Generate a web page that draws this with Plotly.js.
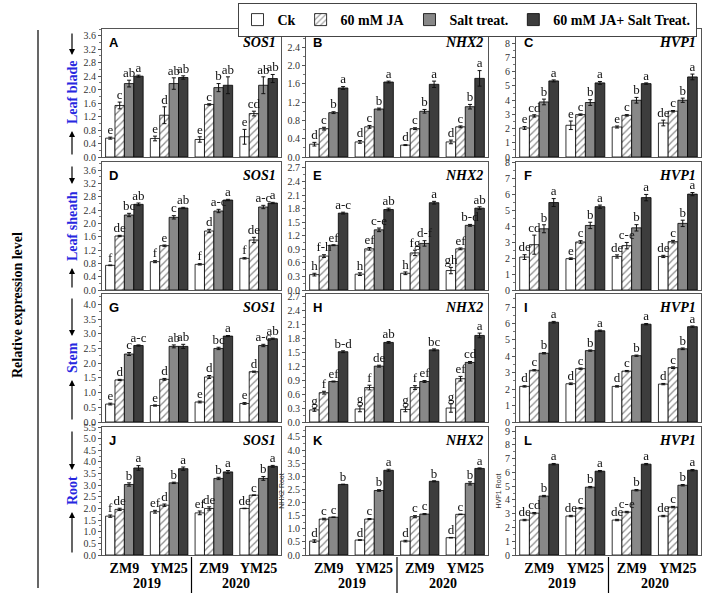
<!DOCTYPE html>
<html><head><meta charset="utf-8">
<script src="https://cdn.plot.ly/plotly-3.0.1.min.js"></script>
<style>
html,body{margin:0;padding:0;background:#fff}
#chart .textpoint text{filter:grayscale(100%);}
#chart .annotation-text{filter:none;}
</style>
</head><body><div id="chart" style="width:708px;height:595px"></div>
<script>
const categories = ['ZM9','YM25','ZM9','YM25'];
const years = ['2019','2020'];
const treatments = ['Ck','60 mM JA','Salt treat.','60 mM JA+ Salt Treat.'];
const panelLetters = ['A','B','C','D','E','F','G','H','I','J','K','L'];
const genes = ['SOS1','NHX2','HVP1'];
const tissues = ['Leaf blade','Leaf sheath','Stem','Root'];

// each: [Ck, 60 mM JA, Salt, JA+Salt] x [ZM9-2019, YM25-2019, ZM9-2020, YM25-2020]
const A_val = [[0.56,0.55,0.52,0.60],[1.53,1.24,1.56,1.29],[2.18,2.18,2.06,2.13],[2.40,2.36,2.13,2.33]];
const A_err = [[0.03,0.07,0.08,0.22],[0.10,0.25,0.02,0.07],[0.10,0.17,0.12,0.25],[0.03,0.05,0.25,0.12]];
const A_sig = [['e','e','e','e'],['c','d','c','cd'],['ab','ab','b','ab'],['a','ab','ab','ab']];

const B_val = [[0.28,0.33,0.26,0.33],[0.62,0.66,0.62,0.66],[0.97,1.05,1.00,1.10],[1.51,1.64,1.59,1.72]];
const B_err = [[0.04,0.03,0.01,0.04],[0.03,0.03,0.02,0.02],[0.02,0.02,0.04,0.05],[0.03,0.02,0.07,0.17]];
const B_sig = [['d','d','d','d'],['c','c','c','c'],['b','b','b','b'],['a','a','a','a']];

const C_val = [[2.04,2.23,2.11,2.39],[2.89,2.98,2.93,3.22],[3.87,3.83,3.99,3.99],[5.35,5.21,5.16,5.63]];
const C_err = [[0.10,0.30,0.07,0.20],[0.08,0.05,0.05,0.05],[0.20,0.20,0.20,0.15],[0.07,0.10,0.05,0.20]];
const C_sig = [['e','e','e','de'],['cd','c','c','c'],['b','b','b','b'],['a','a','a','a']];

const D_val = [[0.74,0.85,0.77,0.95],[1.62,1.33,1.77,1.50],[2.25,2.18,2.37,2.49],[2.57,2.46,2.70,2.61]];
const D_err = [[0.01,0.03,0.02,0.02],[0.02,0.02,0.05,0.08],[0.05,0.05,0.05,0.05],[0.04,0.02,0.02,0.02]];
const D_sig = [['f','f','f','f'],['de','e','d','de'],['bc','c','a-c','a-c'],['ab','ab','a','a']];

const E_val = [[0.34,0.35,0.37,0.43],[0.75,0.91,0.82,0.91],[0.99,1.33,1.03,1.43],[1.70,1.78,1.93,1.81]];
const E_err = [[0.03,0.03,0.03,0.07],[0.03,0.03,0.06,0.02],[0.01,0.04,0.06,0.02],[0.02,0.03,0.03,0.03]];
const E_sig = [['h','h','h','gh'],['f-h','ef','fg','ef'],['ef','c-e','d-f','b-d'],['a-c','ab','a','ab']];

const F_val = [[2.07,1.97,2.11,2.11],[2.85,3.02,2.79,3.04],[3.85,4.06,3.91,4.19],[5.50,5.24,5.81,6.03]];
const F_err = [[0.15,0.05,0.10,0.07],[0.60,0.08,0.20,0.08],[0.25,0.20,0.20,0.20],[0.25,0.10,0.20,0.10]];
const F_sig = [['de','e','de','de'],['cd','c','c-e','c'],['b','b','b','b'],['a','a','a','a']];

const G_val = [[0.61,0.56,0.68,0.63],[1.43,1.45,1.53,1.71],[2.31,2.57,2.50,2.60],[2.60,2.57,2.92,2.83]];
const G_err = [[0.03,0.02,0.03,0.03],[0.02,0.03,0.05,0.02],[0.05,0.05,0.04,0.04],[0.02,0.07,0.02,0.02]];
const G_sig = [['e','e','e','e'],['d','d','d','d'],['c','ab','bc','a-c'],['a-c','ab','a','ab']];

const H_val = [[0.26,0.28,0.27,0.30],[0.63,0.74,0.74,0.93],[0.87,1.20,0.87,1.28],[1.51,1.71,1.55,1.86]];
const H_err = [[0.03,0.06,0.05,0.09],[0.03,0.05,0.04,0.05],[0.01,0.02,0.02,0.02],[0.02,0.02,0.02,0.05]];
const H_sig = [['g','g','g','g'],['f','f','f','ef'],['ef','de','ef','cd'],['b-d','ab','bc','a']];

const I_val = [[2.17,2.33,2.17,2.31],[3.15,3.25,3.10,3.31],[4.19,4.35,4.04,4.46],[6.08,5.56,5.96,5.81]];
const I_err = [[0.04,0.05,0.04,0.04],[0.04,0.04,0.04,0.05],[0.04,0.04,0.04,0.05],[0.05,0.04,0.04,0.04]];
const I_sig = [['d','d','d','d'],['c','c','c','c'],['b','b','b','b'],['a','a','a','a']];

const J_val = [[1.67,1.86,1.81,2.00],[1.96,2.14,2.00,2.57],[3.03,3.10,3.29,3.29],[3.74,3.71,3.57,3.81]];
const J_err = [[0.05,0.06,0.08,0.01],[0.05,0.05,0.07,0.01],[0.07,0.03,0.05,0.08],[0.10,0.07,0.06,0.04]];
const J_sig = [['f','ef','ef','de'],['de','d','de','c'],['b','b','b','b'],['a','a','a','a']];

const K_val = [[0.53,0.57,0.53,0.66],[1.37,1.37,1.46,1.55],[1.44,2.46,1.56,2.73],[2.69,3.23,2.81,3.30]];
const K_err = [[0.05,0.01,0.03,0.01],[0.03,0.02,0.04,0.01],[0.01,0.03,0.02,0.06],[0.01,0.04,0.02,0.02]];
const K_sig = [['d','d','d','d'],['c','c','c','c'],['c','b','c','b'],['b','a','b','a']];

const L_val = [[2.54,2.83,2.54,2.83],[3.04,3.40,3.12,3.48],[4.28,4.93,4.71,5.07],[6.60,6.09,6.60,6.16]];
const L_err = [[0.05,0.05,0.05,0.05],[0.05,0.05,0.05,0.05],[0.05,0.05,0.05,0.05],[0.05,0.05,0.05,0.05]];
const L_sig = [['de','de','de','de'],['cd','c','c-e','c'],['b','b','b','b'],['a','a','a','a']];

const panels = [
  [A_val,A_err,A_sig],[B_val,B_err,B_sig],[C_val,C_err,C_sig],
  [D_val,D_err,D_sig],[E_val,E_err,E_sig],[F_val,F_err,F_sig],
  [G_val,G_err,G_sig],[H_val,H_err,H_sig],[I_val,I_err,I_sig],
  [J_val,J_err,J_sig],[K_val,K_err,K_sig],[L_val,L_err,L_sig]
];
// axis settings [max, dtick, format]
const axisCfg = [
  [3.8,0.4,'.1f'],[2.8,0.4,'.1f'],[9,1,'d'],
  [3.84,0.4,'.1f'],[2.83,0.3,'.1f'],[8.05,1,'d'],
  [4.35,0.5,'.1f'],[2.75,0.3,'.1f'],[7.8,1,'d'],
  [5.5,0.5,'.1f'],[4.88,0.5,'.1f'],[9.3,1,'d']
];
const yTitles = ['','','','','','','','','','','NHX2 Root','HVP1 Root'];

const W = 708, H = 595;
const fx = p => p / W, fy = p => 1 - p / H;
const colPx = [[102,281],[306,488],[516,701]];
const rowPx = [[29,157],[162,290],[294,422],[427,555]];

const fillColors = ['#ffffff','#ffffff','#888888','#3d3d3d'];
const serif = 'Liberation Serif';
const bw = 0.21;

const data = [];
const layout = {
  width: W, height: H, margin:{l:0,r:0,t:0,b:0}, autosize:false,
  paper_bgcolor:'#fff', plot_bgcolor:'#fff', barmode:'overlay',
  colorway:['#222222'],
  font:{family:serif, color:'#000'},
  showlegend:true,
  legend:{orientation:'h', x:fx(467), xanchor:'center', y:fy(3), yanchor:'top',
    bordercolor:'#444', borderwidth:1, font:{family:serif, size:14, weight:'bold', color:'#000'},
    itemwidth:30, tracegroupgap:0, bgcolor:'#fff'},
  annotations:[], shapes:[]
};

panels.forEach((pd, p) => {
  const [val, err, sig] = pd;
  const r = Math.floor(p/3), c = p % 3;
  const xn = p === 0 ? 'x' : 'x' + (p+1);
  const yn = p === 0 ? 'y' : 'y' + (p+1);
  for (let s = 0; s < 4; s++) {
    const xs = categories.map((_, k) => k + (s - 1.5) * bw);
    const marker = {color: fillColors[s], line:{color:'#000', width:0.8}};
    if (s === 1) marker.pattern = {shape:'/', fgcolor:'#8a8a8a', bgcolor:'#ffffff', size:5, solidity:0.25};
    data.push({type:'bar', x: xs, y: val[s], width: bw, xaxis: xn, yaxis: yn,
      name: treatments[s], legendgroup: 'g'+s, showlegend: p === 0, marker,
      error_y:{type:'data', array: err[s], visible:true, color:'#111', thickness:1, width:2},
      hoverinfo:'y'});
    data.push({type:'scatter', mode:'text', x: xs, y: val[s].map((v,k)=>v+err[s][k]),
      text: sig[s], textposition:'top center', xaxis: xn, yaxis: yn, showlegend:false,
      marker:{color:'#222222'}, line:{color:'#222222'},
      textfont:{family:serif, size:13, color:'#111111'}, cliponaxis:false, hoverinfo:'skip'});
  }
  const [ymax, dt, fmt] = axisCfg[p];
  const xk = p === 0 ? 'xaxis' : 'xaxis' + (p+1);
  const yk = p === 0 ? 'yaxis' : 'yaxis' + (p+1);
  layout[xk] = {domain:[fx(colPx[c][0]), fx(colPx[c][1])], anchor: yn, range:[-0.5,3.5],
    showline:true, mirror:true, linecolor:'#555', linewidth:1, ticks:'', showgrid:false, zeroline:false,
    showticklabels: r === 3, tickmode:'array', tickvals:[0,1,2,3], ticktext: categories,
    tickfont:{family:serif, size:14, weight:'bold', color:'#000'}, fixedrange:true};
  layout[yk] = {domain:[fy(rowPx[r][1]), fy(rowPx[r][0])], anchor: xn, range:[0, ymax],
    dtick: dt, tick0:0, tickformat: fmt, ticks:'outside', ticklen:3, tickwidth:1, tickcolor:'#555',
    minor:{ticks:'outside', ticklen:2, dtick: dt/2, tickcolor:'#777'},
    showline:true, mirror:true, linecolor:'#555', linewidth:1, showgrid:false, zeroline:false,
    tickfont:{family:serif, size:10, color:'#333'}, fixedrange:true,
    title: yTitles[p] ? {text: yTitles[p], font:{family:'Liberation Sans', size:7, color:'#333'}, standoff:2} : {text:''}};
  layout.annotations.push({xref: xn + ' domain', yref: yn + ' domain', x:0.03, y:0.97,
    xanchor:'left', yanchor:'top', showarrow:false, text: panelLetters[p],
    font:{family:'Liberation Sans', size:13, weight:'bold', color:'#000'}});
  layout.annotations.push({xref: xn + ' domain', yref: yn + ' domain', x:0.985, y:0.97,
    xanchor:'right', yanchor:'top', showarrow:false, text: genes[c],
    font:{family:serif, size:14, weight:'bold', style:'italic', color:'#000'}});
  if (r === 3) {
    years.forEach((yr, i) => layout.annotations.push({xref: xn, yref:'paper', x: 0.5 + 2*i, y: fy(583),
      xanchor:'center', yanchor:'middle',
      showarrow:false, text: yr, font:{family:serif, size:14, weight:'bold', color:'#000'}}));
    layout.shapes.push({type:'line', xref: xn, yref:'paper', x0:1.5, x1:1.5, y0: fy(557), y1: fy(593),
      line:{color:'#000', width:1.2}});
  }
});

// row labels with arrows
const halfLen = [34, 38, 18, 17];
tissues.forEach((t, r) => {
  const top = rowPx[r][0], bot = rowPx[r][1];
  const mid = (top + bot) / 2;
  layout.annotations.push({xref:'paper', yref:'paper', x: fx(72), y: fy(mid), textangle:-90,
    xanchor:'center', yanchor:'middle',
    showarrow:false, text: t, font:{family:serif, size:14, weight:'bold', color:'#2727e0'}});
  const hTop = mid - halfLen[r] - 4, hBot = mid + halfLen[r] + 4;
  layout.annotations.push({xref:'paper', yref:'paper', x: fx(72), y: fy(hTop), ax:0, ay:(top + 3) - hTop,
    text:'', showarrow:true, arrowhead:2, arrowsize:1, arrowwidth:1.2, arrowcolor:'#000'});
  layout.annotations.push({xref:'paper', yref:'paper', x: fx(72), y: fy(hBot), ax:0, ay:(bot - 1) - hBot,
    text:'', showarrow:true, arrowhead:2, arrowsize:1, arrowwidth:1.2, arrowcolor:'#000'});
});
layout.annotations.push({xref:'paper', yref:'paper', x: fx(17), y: fy(305), textangle:-90,
  xanchor:'center', yanchor:'middle',
  showarrow:false, text:'Relative expression level', font:{family:serif, size:14, weight:'bold', color:'#000'}});
layout.shapes.push({type:'line', xref:'paper', yref:'paper', x0: fx(38), x1: fx(38), y0: fy(30), y1: fy(588),
  line:{color:'#000', width:1.2}});

Plotly.newPlot('chart', data, layout, {displayModeBar:false, staticPlot:true});
</script></body></html>
